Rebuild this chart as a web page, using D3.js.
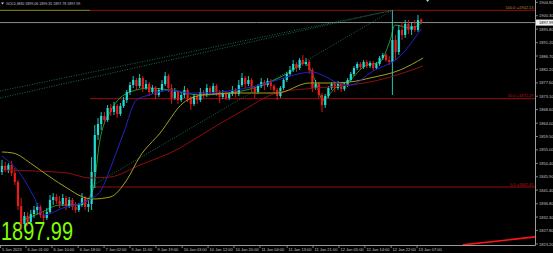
<!DOCTYPE html>
<html>
<head>
<meta charset="utf-8">
<script src="https://cdn.jsdelivr.net/npm/d3@7"></script>
<style>
html, body { margin: 0; padding: 0; background: #000; overflow: hidden; }
svg { display: block; font-family: "Liberation Sans", Arial, sans-serif; }
</style>
</head>
<body>
<div id="chart"></div>
<script>
// GOLD M30 candles
const opens = [
  1847.52, 1849.55, 1848.19, 1849.88, 1847.18, 1844.14, 1836.03, 1829.95, 1832.66, 1830.63,
  1833.33, 1834.68, 1835.70, 1832.99, 1831.98, 1834.01, 1838.06, 1839.07, 1837.72, 1836.71,
  1838.74, 1836.03, 1838.06, 1835.70, 1834.68, 1836.37, 1838.74, 1835.70, 1836.71, 1847.52,
  1860.02, 1863.73, 1866.44, 1865.08, 1869.14, 1867.79, 1869.81, 1867.11, 1869.81, 1871.84,
  1874.54, 1876.91, 1878.60, 1876.57, 1879.27, 1875.89, 1877.24, 1874.54, 1875.89, 1873.53,
  1875.22, 1877.24, 1879.95, 1875.89, 1872.52, 1874.54, 1871.84, 1873.53, 1875.22, 1872.52,
  1870.49, 1873.19, 1871.84, 1874.54, 1873.53, 1875.89, 1874.54, 1876.57, 1874.54, 1872.85,
  1874.20, 1872.52, 1873.87, 1875.22, 1873.87, 1876.91, 1879.27, 1877.24, 1878.60, 1875.89,
  1874.54, 1876.57, 1877.92, 1876.91, 1878.26, 1876.57, 1875.22, 1873.19, 1875.89, 1878.60,
  1880.62, 1881.97, 1884.00, 1882.65, 1885.35, 1884.00, 1884.68, 1881.97, 1875.89, 1877.24,
  1873.53, 1870.15, 1873.19, 1875.89, 1877.24, 1875.89, 1877.24, 1875.56, 1876.91, 1878.60,
  1880.62, 1882.65, 1884.00, 1882.99, 1884.68, 1883.33, 1884.34, 1882.65, 1884.00, 1886.03,
  1887.04, 1885.35, 1884.68, 1892.11, 1888.05, 1895.49, 1893.80, 1897.51, 1895.49, 1896.84,
  1895.49, 1899.06
];
const highs = [
  1851.57, 1850.90, 1850.56, 1851.23, 1848.87, 1844.82, 1838.74, 1834.01, 1834.01, 1834.68,
  1836.03, 1837.05, 1836.37, 1834.34, 1835.36, 1839.75, 1840.42, 1840.09, 1839.41, 1840.09,
  1839.41, 1839.07, 1838.74, 1837.38, 1837.05, 1840.42, 1839.41, 1838.06, 1852.59, 1863.39,
  1865.76, 1867.79, 1867.79, 1870.15, 1870.49, 1871.16, 1870.49, 1870.83, 1872.85, 1875.22,
  1877.92, 1879.95, 1879.27, 1880.62, 1879.95, 1878.60, 1877.92, 1876.91, 1876.57, 1875.89,
  1878.60, 1881.30, 1880.62, 1877.24, 1875.89, 1875.22, 1874.54, 1876.57, 1875.89, 1873.19,
  1873.87, 1873.87, 1875.89, 1875.22, 1877.24, 1876.57, 1877.58, 1877.24, 1875.22, 1875.22,
  1874.88, 1874.54, 1876.57, 1875.89, 1878.60, 1880.96, 1879.95, 1879.95, 1879.27, 1876.57,
  1877.24, 1879.27, 1878.60, 1879.27, 1878.93, 1877.24, 1875.89, 1876.57, 1879.27, 1881.30,
  1883.33, 1885.35, 1884.68, 1886.03, 1887.04, 1886.03, 1885.35, 1882.65, 1878.60, 1877.92,
  1874.20, 1873.87, 1876.57, 1877.92, 1877.92, 1878.26, 1877.92, 1877.58, 1879.27, 1881.30,
  1883.33, 1884.68, 1884.68, 1885.35, 1885.35, 1885.01, 1885.01, 1884.68, 1886.70, 1887.72,
  1887.72, 1886.70, 1902.13, 1893.80, 1897.17, 1898.19, 1898.86, 1898.86, 1898.19, 1898.86,
  1900.55, 1899.35
];
const lows = [
  1846.50, 1847.52, 1847.18, 1846.17, 1843.13, 1834.68, 1827.93, 1828.60, 1829.28, 1829.95,
  1831.98, 1833.33, 1831.98, 1830.63, 1831.30, 1833.33, 1836.37, 1836.71, 1835.36, 1836.03,
  1834.68, 1835.36, 1834.68, 1833.67, 1834.01, 1835.70, 1834.68, 1834.01, 1834.68, 1842.11,
  1858.33, 1861.71, 1863.73, 1864.41, 1866.44, 1866.77, 1865.76, 1866.44, 1869.14, 1870.83,
  1873.53, 1875.89, 1875.22, 1875.89, 1874.54, 1875.22, 1873.19, 1873.87, 1872.18, 1872.85,
  1874.54, 1876.57, 1874.54, 1870.49, 1871.84, 1870.49, 1871.16, 1872.52, 1871.16, 1868.46,
  1869.81, 1870.49, 1871.16, 1872.52, 1872.85, 1873.53, 1873.87, 1873.19, 1870.83, 1872.18,
  1871.84, 1871.84, 1873.19, 1872.85, 1873.19, 1876.23, 1875.89, 1876.57, 1874.54, 1872.52,
  1873.87, 1875.89, 1875.22, 1876.23, 1875.22, 1874.20, 1871.84, 1872.52, 1875.22, 1877.92,
  1879.95, 1881.30, 1881.30, 1881.97, 1883.33, 1883.33, 1880.62, 1874.54, 1875.22, 1872.52,
  1867.79, 1869.14, 1872.52, 1875.22, 1874.54, 1875.22, 1874.54, 1874.88, 1876.23, 1877.92,
  1879.95, 1881.97, 1881.97, 1882.31, 1882.65, 1882.65, 1881.97, 1881.97, 1883.33, 1885.35,
  1884.68, 1883.66, 1873.53, 1885.35, 1887.04, 1892.11, 1892.78, 1894.13, 1893.80, 1894.81,
  1894.81, 1897.78
];
const closes = [
  1849.55, 1848.19, 1849.88, 1847.18, 1844.14, 1836.03, 1829.95, 1832.66, 1830.63, 1833.33,
  1834.68, 1835.70, 1832.99, 1831.98, 1834.01, 1838.06, 1839.07, 1837.72, 1836.71, 1838.74,
  1836.03, 1838.06, 1835.70, 1834.68, 1836.37, 1838.74, 1835.70, 1836.71, 1847.52, 1860.02,
  1863.73, 1866.44, 1865.08, 1869.14, 1867.79, 1869.81, 1867.11, 1869.81, 1871.84, 1874.54,
  1876.91, 1878.60, 1876.57, 1879.27, 1875.89, 1877.24, 1874.54, 1875.89, 1873.53, 1875.22,
  1877.24, 1879.95, 1875.89, 1872.52, 1874.54, 1871.84, 1873.53, 1875.22, 1872.52, 1870.49,
  1873.19, 1871.84, 1874.54, 1873.53, 1875.89, 1874.54, 1876.57, 1874.54, 1872.85, 1874.20,
  1872.52, 1873.87, 1875.22, 1873.87, 1876.91, 1879.27, 1877.24, 1878.60, 1875.89, 1874.54,
  1876.57, 1877.92, 1876.91, 1878.26, 1876.57, 1875.22, 1873.19, 1875.89, 1878.60, 1880.62,
  1881.97, 1884.00, 1882.65, 1885.35, 1884.00, 1884.68, 1881.97, 1875.89, 1877.24, 1873.53,
  1870.15, 1873.19, 1875.89, 1877.24, 1875.89, 1877.24, 1875.56, 1876.91, 1878.60, 1880.62,
  1882.65, 1884.00, 1882.99, 1884.68, 1883.33, 1884.34, 1882.65, 1884.00, 1886.03, 1887.04,
  1885.35, 1884.68, 1892.11, 1888.05, 1895.49, 1893.80, 1897.51, 1895.49, 1896.84, 1895.49,
  1898.86, 1897.99
];

// moving averages, sampled points [bar index, price]
const maBlue = [[0,1852.92],[6,1846.50],[10,1839.07],[13,1832.99],[19,1835.36],[27,1838.06],[31,1841.44],
  [34,1849.21],[38,1860.69],[42,1871.84],[46,1873.53],[53,1875.22],[58,1874.20],[63,1874.20],[68,1874.54],
  [73,1875.22],[78,1876.23],[84,1877.92],[89,1879.61],[94,1880.96],[97,1881.30],[100,1880.29],[105,1877.58],
  [109,1876.91],[113,1879.27],[115,1880.96],[118,1882.65],[123,1885.35],[131,1895.82]];
const maOlive = [[0,1854.28],[3.4,1853.94],[9.7,1849.88],[15,1845.83],[20.3,1842.11],[25.3,1839.07],
  [28.4,1838.40],[33.8,1839.07],[39,1844.82],[43,1852.59],[49.4,1860.69],[56.6,1870.83],[62.8,1873.53],
  [73.4,1874.20],[86,1874.20],[96,1877.58],[102.5,1877.58],[108.8,1877.92],[115,1879.27],[124.4,1881.97],
  [131.6,1886.03]];
const maRed = [[0,1848.19],[9.7,1847.86],[20.3,1847.18],[27.5,1845.49],[33.8,1845.83],[43.1,1849.88],
  [55.6,1855.63],[59.7,1858.33],[73.4,1867.11],[86.9,1874.54],[98.4,1875.89],[108.8,1876.91],[115,1877.92],
  [124.4,1880.62],[131.6,1883.33]];
const maGreen = [[6.6,1831.30],[11.9,1833.67],[18.1,1836.37],[24.4,1836.37],[28.4,1841.44],[30.6,1858.33],
  [33.8,1867.79],[40,1874.54],[46.3,1875.89],[52.5,1875.22],[61.9,1873.53],[71.3,1874.20],[80.6,1876.57],
  [90,1881.30],[94.7,1884.34],[97.8,1878.60],[100.3,1871.84],[104.1,1875.89],[108.8,1878.60],[113.4,1883.33],
  [118.1,1884.68],[121.3,1892.11],[122.8,1897.17],[127.5,1896.16],[131.6,1898.19]];

// fibonacci levels and trend lines
const fibLevels = [0, 50, 100];
const fibPrices = [1842.45, 1872.29, 1902.13];
const fibStartIdx = 27.5;
const fibDiagonal = [[27.5, 1842.45], [122, 1902.13]];
const channelLines = [[[-0.6, 1874.88], [122, 1902.13]], [[-0.6, 1872.52], [122, 1902.13]]];
const redTrend = [[144, 1822.9], [166.6, 1825.6]];

// axis ticks
const priceTicks = [1823.20, 1827.80, 1832.30, 1836.80, 1841.40, 1845.90, 1850.40, 1855.00, 1859.50,
  1864.00, 1868.60, 1873.10, 1877.60, 1882.20, 1886.70, 1891.20, 1895.80, 1900.30, 1904.80];
const timeTickIdx = [-0.6, 7.5, 15.6, 23.8, 31.9, 40, 48.1, 56.3, 64.4, 72.5, 80.6, 89.1, 97.2, 105.3, 113.4, 121.6, 129.7];
const timeLabels = ["5 Jan 2023", "6 Jan 01:00", "6 Jan 10:00", "6 Jan 18:00", "7 Jan 02:00", "9 Jan 11:00",
  "9 Jan 19:00", "10 Jan 03:00", "10 Jan 12:00", "10 Jan 20:00", "11 Jan 04:00", "11 Jan 13:00",
  "11 Jan 21:00", "12 Jan 05:00", "12 Jan 14:00", "12 Jan 22:00", "13 Jan 07:00"];

const symbol = "GOLD,M30";

// Layout
const W = 553, H = 253;
const plotRight = 535, plotBottom = 245;

const svg = d3.select("#chart").append("svg")
    .attr("width", W)
    .attr("height", H);

svg.append("rect").attr("width", W).attr("height", H).attr("fill", "#000");

svg.append("defs").append("clipPath").attr("id", "plot")
    .append("rect").attr("x", 0).attr("y", 0).attr("width", plotRight).attr("height", plotBottom);

const x = d3.scaleLinear().domain([0, closes.length - 1]).range([2, 421.2]);
const y = d3.scaleLinear().domain([1823.2, 1886.7]).range([244, 56]);

const g = svg.append("g").attr("clip-path", "url(#plot)");

const lastClose = closes[closes.length - 1];

// Big last price
g.append("text")
    .attr("x", 1)
    .attr("y", 240)
    .attr("font-size", 25)
    .attr("textLength", 72)
    .attr("lengthAdjust", "spacingAndGlyphs")
    .attr("fill", "#7fff00")
    .text(lastClose.toFixed(2));

// Fibonacci levels
fibPrices.forEach((p, k) => {
    g.append("line")
        .attr("x1", x(fibStartIdx)).attr("x2", plotRight)
        .attr("y1", y(p)).attr("y2", y(p))
        .attr("stroke", "#9a0d0d").attr("stroke-width", 1);
});
g.append("line")
    .attr("x1", 0).attr("x2", x(fibStartIdx))
    .attr("y1", y(fibPrices[2])).attr("y2", y(fibPrices[2]))
    .attr("stroke", "#8f8f1c").attr("stroke-width", 1);

// current price line
g.append("line")
    .attr("x1", 0).attr("x2", plotRight)
    .attr("y1", y(lastClose)).attr("y2", y(lastClose))
    .attr("stroke", "#8c8c96").attr("stroke-width", 1);

// dotted trend lines
const line = d3.line().x(d => x(d[0])).y(d => y(d[1]));
[fibDiagonal, ...channelLines].forEach(pts => {
    g.append("path")
        .attr("d", line(pts))
        .attr("fill", "none")
        .attr("stroke", "#1f8a55")
        .attr("stroke-width", 0.8)
        .attr("stroke-dasharray", "1,1.5");
});

// bright red trend line (bottom right)
g.append("path")
    .attr("d", line(redTrend))
    .attr("fill", "none")
    .attr("stroke", "#ff1414")
    .attr("stroke-width", 1.6);

// green fast MA below candles
const curve = d3.line().x(d => x(d[0])).y(d => y(d[1])).curve(d3.curveMonotoneX);
g.append("path").attr("d", curve(maGreen))
    .attr("fill", "none").attr("stroke", "#1f9a24").attr("stroke-width", 1);

// Candles
const upColor = "#22dcd4", downColor = "#ec1a1a";
const candles = closes.map((c, i) => ({ i, o: opens[i], h: highs[i], l: lows[i], c }));

g.selectAll(".wick")
    .data(candles)
    .enter()
    .append("line")
    .attr("class", "wick")
    .attr("x1", d => x(d.i)).attr("x2", d => x(d.i))
    .attr("y1", d => y(d.h)).attr("y2", d => y(d.l))
    .attr("stroke", d => d.c >= d.o ? upColor : downColor)
    .attr("stroke-width", 0.9);

g.selectAll(".body")
    .data(candles)
    .enter()
    .append("rect")
    .attr("class", "body")
    .attr("x", d => x(d.i) - 1.1)
    .attr("width", 2.2)
    .attr("y", d => y(Math.max(d.o, d.c)))
    .attr("height", d => Math.max(0.8, Math.abs(y(d.o) - y(d.c))))
    .attr("fill", d => d.c >= d.o ? upColor : downColor);

// moving averages on top
[[maRed, "#8e0f0f"], [maOlive, "#a3a01e"], [maBlue, "#2222c8"]].forEach(([pts, col]) => {
    g.append("path").attr("d", curve(pts))
        .attr("fill", "none").attr("stroke", col).attr("stroke-width", 1);
});

// Fibonacci labels
fibPrices.forEach((p, k) => {
    svg.append("text")
        .attr("x", plotRight - 1.5)
        .attr("y", y(p) - 1.5)
        .attr("text-anchor", "end")
        .attr("font-size", 4)
        .attr("fill", k === 2 ? "#b0902c" : "#c01010")
        .text(`${fibLevels[k].toFixed(1)} =${p.toFixed(2)}`);
});

// Axes
const axisColor = "#9a9a9a", labelColor = "#c4c4c4";

svg.append("line")
    .attr("x1", plotRight + 0.5).attr("x2", plotRight + 0.5)
    .attr("y1", 0).attr("y2", plotBottom + 0.5)
    .attr("stroke", axisColor).attr("stroke-width", 1);
svg.append("line")
    .attr("x1", 0).attr("x2", plotRight + 0.5)
    .attr("y1", plotBottom + 0.5).attr("y2", plotBottom + 0.5)
    .attr("stroke", axisColor).attr("stroke-width", 1);

priceTicks.forEach(p => {
    svg.append("line")
        .attr("x1", plotRight + 0.5).attr("x2", plotRight + 3)
        .attr("y1", y(p)).attr("y2", y(p))
        .attr("stroke", axisColor).attr("stroke-width", 0.8);
    svg.append("text")
        .attr("x", plotRight + 4)
        .attr("y", y(p) + 1.5)
        .attr("font-size", 4)
        .attr("fill", labelColor)
        .text(p.toFixed(2));
});

timeTickIdx.forEach((t, k) => {
    const tx = Math.max(0.5, x(t));
    svg.append("line")
        .attr("x1", tx).attr("x2", tx)
        .attr("y1", plotBottom + 0.5).attr("y2", plotBottom + 3)
        .attr("stroke", axisColor).attr("stroke-width", 0.8);
    svg.append("text")
        .attr("x", tx + 1.5)
        .attr("y", plotBottom + 6)
        .attr("font-size", 4)
        .attr("fill", labelColor)
        .text(timeLabels[k]);
});

// current price tag
const cy = y(lastClose);
svg.append("rect")
    .attr("x", plotRight + 1).attr("y", cy - 3)
    .attr("width", W - plotRight - 1).attr("height", 6)
    .attr("fill", "#f0f0f0");
svg.append("text")
    .attr("x", plotRight + 4).attr("y", cy + 1.5)
    .attr("font-size", 4).attr("fill", "#000")
    .text(lastClose.toFixed(2));

// header
svg.append("path")
    .attr("d", "M1,2.5 L4,2.5 L2.5,4.5 Z")
    .attr("fill", "#d0d0d0");
svg.append("text")
    .attr("x", 6).attr("y", 4.8)
    .attr("font-size", 3.6)
    .attr("fill", "#c8c8c8")
    .text(`${symbol}  ${opens[opens.length - 1].toFixed(2)} ${highs[highs.length - 1].toFixed(2)} ${lows[lows.length - 1].toFixed(2)} ${lastClose.toFixed(2)}`);

// chart shift marker at top
const sx = x(closes.length + 1);
svg.append("path")
    .attr("d", `M${sx - 1.5},0 L${sx + 1.5},0 L${sx},2 Z`)
    .attr("fill", "#c8c8c8");
</script>
</body>
</html>
